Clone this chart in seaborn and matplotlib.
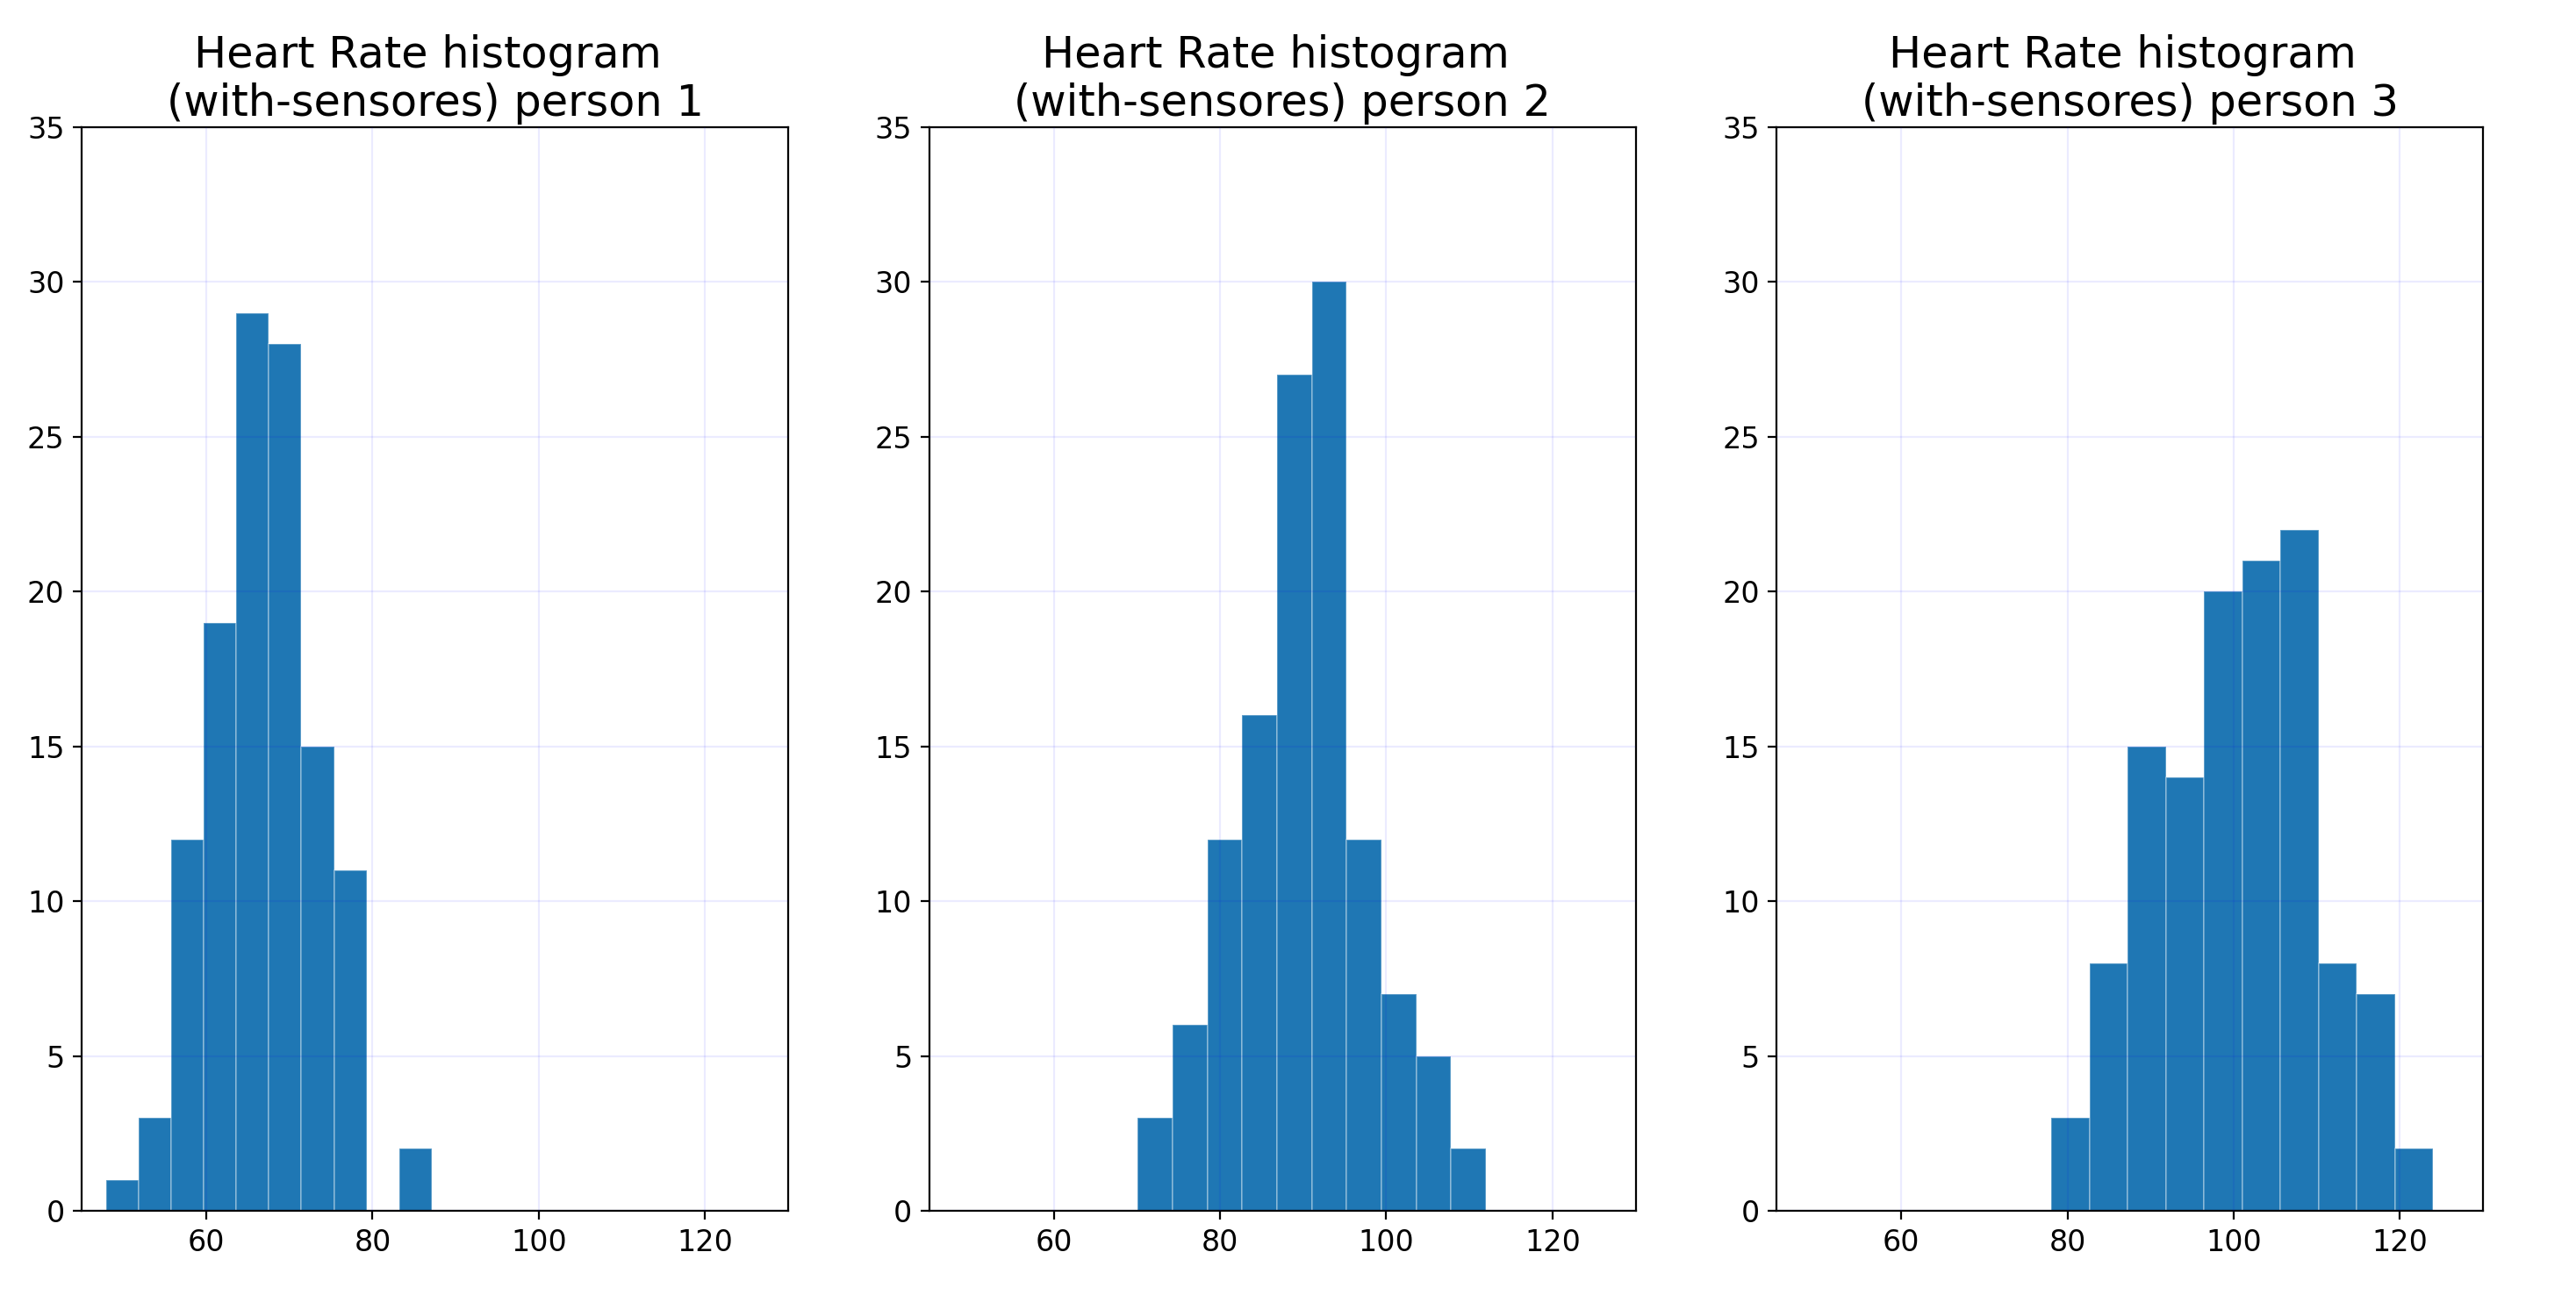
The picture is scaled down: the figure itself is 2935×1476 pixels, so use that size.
import numpy as np
import pandas as pd
import matplotlib
matplotlib.use("Agg")
import matplotlib.pyplot as plt
import seaborn as sns

# ---- data ----
persons = ["person 1", "person 2", "person 3"]
bin_lo = [47.96, 70.1, 78.06]
bin_hi = [87.1, 112.0, 124.0]
counts_p1 = [1, 3, 12, 19, 29, 28, 15, 11, 0, 2]
counts_p2 = [3, 6, 12, 16, 27, 30, 12, 7, 5, 2]
counts_p3 = [3, 8, 15, 14, 20, 21, 22, 8, 7, 2]
all_counts = [counts_p1, counts_p2, counts_p3]
x_ticks = [60, 80, 100, 120]
y_ticks = [0, 5, 10, 15, 20, 25, 30, 35]

plt.rcParams['font.family'] = ['DejaVu Sans']

fig, axes = plt.subplots(1, 3, figsize=(14.675, 7.38), dpi=200)
fig.subplots_adjust(left=0.0317, right=0.9639, bottom=0.065, top=0.9018,
                    wspace=0.1995)

for ax, person, lo, hi, counts in zip(axes, persons, bin_lo, bin_hi, all_counts):
    edges = np.linspace(lo, hi, len(counts) + 1)
    centers = (edges[:-1] + edges[1:]) / 2
    df = pd.DataFrame({"hr": centers, "n": counts})
    sns.histplot(data=df, x="hr", weights="n", bins=edges.tolist(), ax=ax,
                 color="#1f77b4", alpha=1, edgecolor=(1, 1, 1, 0.35),
                 linewidth=0.6)
    ax.set_xlim(45, 130)
    ax.set_ylim(0, 35)
    ax.set_xticks(x_ticks)
    ax.set_yticks(y_ticks)
    ax.set_xlabel("")
    ax.set_ylabel("")
    ax.tick_params(labelsize=12)
    ax.set_axisbelow(False)
    ax.grid(True, color="blue", alpha=0.08, linewidth=0.8)
    ax.set_title(f"Heart Rate histogram \n(with-sensores) {person}",
                 fontsize=17.8, pad=4.5)
    for s in ax.spines.values():
        s.set_linewidth(0.8)

fig.savefig("out.png", dpi=200)
